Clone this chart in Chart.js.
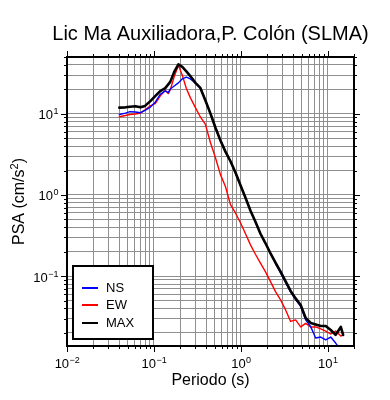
<!DOCTYPE html>
<html>
<head>
<meta charset="utf-8">
<script src="https://cdn.jsdelivr.net/npm/chart.js@4.4.0/dist/chart.umd.min.js"></script>
<style>
  html, body { margin: 0; padding: 0; background: #fff; }
  canvas { display: block; background: #fff; }
</style>
</head>
<body>
<canvas id="psa" width="390" height="400"></canvas>
<script>
// periods (s) and PSA values (cm/s^2)
const periods = [0.040, 0.047, 0.053, 0.061, 0.070, 0.079, 0.091, 0.104, 0.118, 0.135,
  0.146, 0.154, 0.171, 0.191, 0.212, 0.236, 0.262, 0.300, 0.342, 0.391,
  0.446, 0.509, 0.582, 0.664, 0.759, 0.866, 0.989, 1.13, 1.29, 1.47,
  1.68, 1.92, 2.20, 2.51, 2.86, 3.27, 3.73, 4.26, 4.87, 5.56,
  6.35, 7.25, 8.28, 9.46, 10.8, 12.3, 14.1, 15.0];
const psaNS = [9.80, 10.2, 10.6, 10.5, 10.3, 11.0, 12.1, 14.0, 17.3, 19.1,
  18.2, 20.2, 22.0, 24.0, 26.9, 28.2, 26.9, 24.0, 20.8, 14.6,
  10.1, 6.77, 4.68, 3.42, 2.60, 1.89, 1.32, 0.926, 0.640, 0.468,
  0.333, 0.254, 0.189, 0.142, 0.110, 0.0840, 0.0640, 0.0515, 0.0425, 0.0289,
  0.0239, 0.0173, 0.0178, 0.0164, 0.0178, 0.0150, 0.0123, 0.0117];
const psaEW = [9.18, 9.53, 9.80, 9.92, 10.2, 11.2, 12.5, 13.4, 16.5, 19.4,
  17.7, 19.7, 28.5, 39.5, 29.7, 20.5, 15.8, 11.9, 9.13, 7.38,
  4.42, 2.89, 1.78, 1.27, 0.759, 0.600, 0.455, 0.333, 0.243, 0.186,
  0.145, 0.113, 0.0851, 0.0640, 0.0510, 0.0384, 0.0277, 0.0289, 0.0237, 0.0262,
  0.0237, 0.0237, 0.0224, 0.0211, 0.0194, 0.0211, 0.0183, 0.0189];
const psaMAX = [11.9, 12.0, 12.2, 12.4, 12.0, 12.5, 14.3, 16.6, 19.0, 20.7,
  23.0, 24.7, 32.8, 40.6, 37.8, 33.3, 29.1, 24.0, 20.8, 14.6,
  10.1, 6.77, 4.68, 3.42, 2.60, 1.89, 1.32, 0.926, 0.640, 0.468,
  0.333, 0.254, 0.189, 0.146, 0.114, 0.0863, 0.0658, 0.0532, 0.0442, 0.0306,
  0.0265, 0.0254, 0.0243, 0.0243, 0.0217, 0.0189, 0.0237, 0.0189];

const xLabelExps = [-2, -1, 0, 1];
const yLabelExps = [-1, 0, 1];
const xRange = [0.01, 20];
const yRange = [0.0138, 50];

const FONT = '"Liberation Sans", Arial, Helvetica, sans-serif';

// all 1..9 x 10^n values inside [lo, hi]
function logTicks(lo, hi) {
  const out = [];
  for (let e = Math.floor(Math.log10(lo)); e <= Math.ceil(Math.log10(hi)); e++) {
    for (let m = 1; m <= 9; m++) {
      const v = Number((m * Math.pow(10, e)).toPrecision(6));
      if (v >= lo * 0.9999 && v <= hi * 1.0001) out.push(v);
    }
  }
  return out;
}
function isDecade(v) {
  const l = Math.log10(v);
  return Math.abs(l - Math.round(l)) < 1e-6;
}
function toXY(vals) {
  return periods.map((t, i) => ({ x: t, y: vals[i] }));
}

// "10" with a raised exponent
function drawPow(ctx, exp, x, y, align) {
  const base = '10';
  const sup = exp < 0 ? '\u2212' + (-exp) : String(exp);
  ctx.font = '13px ' + FONT;
  const wb = ctx.measureText(base).width;
  ctx.font = '9px ' + FONT;
  const ws = ctx.measureText(sup).width;
  const x0 = align === 'center' ? x - (wb + ws) / 2 : x - (wb + ws);
  ctx.textAlign = 'left';
  ctx.font = '13px ' + FONT;
  ctx.fillText(base, x0, y);
  ctx.font = '9px ' + FONT;
  ctx.fillText(sup, x0 + wb + 0.5, y - 5);
}

const gmtFrame = {
  id: 'gmtFrame',
  afterDraw(chart) {
    const { ctx, chartArea: a, scales: { x, y } } = chart;
    ctx.save();
    ctx.fillStyle = '#000';
    ctx.strokeStyle = '#000';

    // frame
    ctx.lineWidth = 2;
    ctx.strokeRect(a.left, a.top, a.right - a.left, a.bottom - a.top);

    // outside ticks on all four sides
    ctx.lineWidth = 1;
    ctx.beginPath();
    x.ticks.forEach(t => {
      const px = Math.round(x.getPixelForValue(t.value)) + 0.5;
      const len = isDecade(t.value) ? 6 : 3;
      ctx.moveTo(px, a.bottom); ctx.lineTo(px, a.bottom + len);
      ctx.moveTo(px, a.top); ctx.lineTo(px, a.top - len);
    });
    y.ticks.forEach(t => {
      const py = Math.round(y.getPixelForValue(t.value)) + 0.5;
      const len = isDecade(t.value) ? 6 : 3;
      ctx.moveTo(a.left, py); ctx.lineTo(a.left - len, py);
      ctx.moveTo(a.right, py); ctx.lineTo(a.right + len, py);
    });
    ctx.stroke();

    // tick labels
    ctx.textBaseline = 'alphabetic';
    xLabelExps.forEach(e => {
      drawPow(ctx, e, x.getPixelForValue(Math.pow(10, e)), a.bottom + 22, 'center');
    });
    yLabelExps.forEach(e => {
      drawPow(ctx, e, a.left - 9, y.getPixelForValue(Math.pow(10, e)) + 5.5, 'right');
    });

    // title and axis titles
    const cx = (a.left + a.right) / 2;
    ctx.textAlign = 'center';
    ctx.font = '20px ' + FONT;
    ctx.fillText('Lic Ma Auxiliadora,P. Colón (SLMA)', cx, 40);
    ctx.font = '16px ' + FONT;
    ctx.fillText('Periodo (s)', cx, 385);

    ctx.save();
    ctx.translate(24, (a.top + a.bottom) / 2);
    ctx.rotate(-Math.PI / 2);
    const p1 = 'PSA (cm/s', p3 = ')';
    ctx.font = '16px ' + FONT;
    const w1 = ctx.measureText(p1).width, w3 = ctx.measureText(p3).width;
    ctx.font = '11px ' + FONT;
    const w2 = ctx.measureText('2').width;
    let sx = -(w1 + w2 + w3) / 2;
    ctx.textAlign = 'left';
    ctx.font = '16px ' + FONT;
    ctx.fillText(p1, sx, 0);
    ctx.font = '11px ' + FONT;
    ctx.fillText('2', sx + w1, -6);
    ctx.font = '16px ' + FONT;
    ctx.fillText(p3, sx + w1 + w2, 0);
    ctx.restore();

    // legend box
    ctx.fillStyle = '#fff';
    ctx.fillRect(73, 266, 80, 73);
    ctx.lineWidth = 2;
    ctx.strokeRect(73, 266, 80, 73);
    const items = [
      { label: 'NS', color: '#0000ff', y: 288 },
      { label: 'EW', color: '#ff0000', y: 305 },
      { label: 'MAX', color: '#000000', y: 323 }
    ];
    ctx.font = '13px ' + FONT;
    ctx.textAlign = 'left';
    ctx.textBaseline = 'middle';
    items.forEach(it => {
      ctx.strokeStyle = it.color;
      ctx.lineWidth = 2;
      ctx.beginPath();
      ctx.moveTo(82, it.y); ctx.lineTo(98, it.y);
      ctx.stroke();
      ctx.fillStyle = '#000';
      ctx.fillText(it.label, 106, it.y);
    });
    ctx.restore();
  }
};

const gridOpts = { color: '#8f8f8f', lineWidth: 1, drawTicks: false };

new Chart(document.getElementById('psa'), {
  type: 'line',
  data: {
    datasets: [
      { label: 'MAX', data: toXY(psaMAX), borderColor: '#000000', borderWidth: 2.6, order: 0 },
      { label: 'NS', data: toXY(psaNS), borderColor: '#0000ff', borderWidth: 1.4, order: 1 },
      { label: 'EW', data: toXY(psaEW), borderColor: '#ff0000', borderWidth: 1.4, order: 2 }
    ]
  },
  options: {
    responsive: false,
    animation: false,
    devicePixelRatio: 1,
    layout: { padding: { left: 0, right: 36, top: 57, bottom: 0 } },
    elements: {
      point: { radius: 0, hoverRadius: 0 },
      line: { tension: 0, borderJoinStyle: 'round', borderCapStyle: 'round', fill: false }
    },
    plugins: {
      legend: { display: false },
      tooltip: { enabled: false },
      title: { display: false }
    },
    scales: {
      x: {
        type: 'logarithmic',
        min: xRange[0],
        max: xRange[1],
        afterBuildTicks: ax => { ax.ticks = logTicks(xRange[0], xRange[1]).map(v => ({ value: v })); },
        afterFit: ax => { ax.height = 54; },
        ticks: { display: false },
        grid: gridOpts,
        border: { display: false }
      },
      y: {
        type: 'logarithmic',
        min: yRange[0],
        max: yRange[1],
        afterBuildTicks: ax => { ax.ticks = logTicks(yRange[0], yRange[1]).map(v => ({ value: v })); },
        afterFit: ax => { ax.width = 67; },
        ticks: { display: false },
        grid: gridOpts,
        border: { display: false }
      }
    }
  },
  plugins: [gmtFrame]
});
</script>
</body>
</html>
